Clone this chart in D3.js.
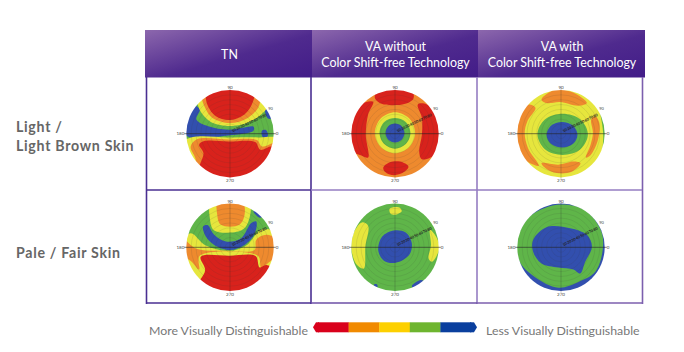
<!DOCTYPE html>
<html><head><meta charset="utf-8">
<script src="https://cdn.jsdelivr.net/npm/d3@7/dist/d3.min.js"></script>
<style>html,body{margin:0;padding:0;background:#fff}svg{display:block}text{font-family:Lato,sans-serif}</style>
</head><body><div id="c"></div>
<script>
const columns = [["TN"],["VA without","Color Shift-free Technology"],["VA with","Color Shift-free Technology"]];
const rows = [["Light /","Light Brown Skin"],["Pale / Fair Skin"]];
const legendLevels = ["#d9001b","#f18a00","#fdd000","#6eb52f","#0a3f9e"];
const legendLeft = "More Visually Distinguishable", legendRight = "Less Visually Distinguishable";
const azimuthLabels = ["90","180","0","270"];
const radialTicks = [10,20,30,40,50,60,70,80];
const R="#d8211d",O="#ee8a2e",Y="#e6e63c",G="#5fb54a",B="#3150ae";

// iso-contours: [fill, [[x,y],...]] in picture reading units
const tnLight = [
 [G,[[70,40],[440,40],[440,300],[70,300]]],
 [B,[[150,85],[122,125],[125,172],[250,172],[325,158],[325,146],[290,150],[250,155],[190,145],[155,125],[165,95]]],
 [B,[[358,85],[375,95],[388,118],[368,122],[360,105]]],
 [B,[[350,158],[362,156],[368,172],[358,182],[350,172]]],
 [Y,[[158,70],[165,20],[350,20],[366,85],[342,114],[300,137],[255,144],[198,132],[168,102]]],
 [O,[[170,55],[175,15],[338,15],[342,82],[308,120],[255,135],[203,120],[182,92]]],
 [R,[[182,55],[182,12],[326,12],[324,70],[298,110],[255,126],[212,114],[190,86]]],
 [Y,[[118,190],[150,176],[250,178],[340,178],[400,182],[398,240],[340,325],[165,325],[142,245],[123,220]]],
 [O,[[138,205],[158,183],[250,184],[335,186],[350,205],[392,195],[395,240],[345,325],[170,325],[152,240]]],
 [R,[[163,200],[178,189],[250,190],[330,192],[345,215],[382,205],[395,250],[340,325],[185,325],[163,275],[176,225]]]
];
const vaLight = [
 [O,[[90,20],[420,20],[420,320],[90,320]]],
 [R,[[145,80],[185,72],[170,110],[163,170],[170,238],[150,232],[115,215],[100,160],[110,110]]],
 [R,[[318,80],[345,80],[390,130],[395,170],[375,225],[330,243],[322,220],[330,170],[330,120]]],
 [R,[[190,60],[205,25],[250,20],[295,25],[305,62],[280,78],[245,82],[210,78]]],
 [R,[[215,268],[235,252],[265,250],[290,265],[270,285],[240,290],[222,282]]],
 [Y,[[250,103],[292,121],[310,165],[292,207],[250,225],[208,207],[190,165],[208,121]]],
 [G,[[250,120],[282,132],[296,165],[282,198],[250,212],[218,198],[204,165],[218,132]]],
 [B,[[250,137],[270,145],[278,165],[270,185],[250,193],[230,185],[222,165],[230,145]]]
];
const vaShiftLight = [
 [G,[[90,20],[420,20],[420,320],[90,320]]],
 [Y,[[248,15],[340,40],[368,125],[372,205],[340,300],[248,320],[120,300],[95,167],[130,50]]],
 [O,[[150,80],[172,90],[148,130],[140,165],[150,210],[182,262],[158,256],[120,225],[105,165],[115,110]]],
 [O,[[350,115],[362,135],[358,185],[335,232],[322,238],[336,200],[343,165],[338,125]]],
 [O,[[190,65],[230,36],[282,44],[325,76],[300,84],[245,73],[205,76]]],
 [O,[[190,255],[240,259],[285,250],[306,255],[280,280],[235,284],[205,272]]],
 [G,[[253,108],[306,125],[328,169],[306,213],[253,230],[200,213],[178,169],[200,125]]],
 [B,[[251,132],[284,143],[297,170],[284,197],[251,208],[218,197],[205,170],[218,143]]]
];
const tnFair = [
 [G,[[90,25],[420,25],[420,320],[90,320]]],
 [Y,[[195,40],[250,25],[310,40],[305,100],[285,122],[205,122],[192,85]]],
 [O,[[218,25],[285,25],[296,70],[280,105],[225,105],[214,75]]],
 [B,[[172,110],[185,106],[205,135],[240,155],[285,145],[315,100],[330,95],[326,130],[295,165],[250,180],[205,165],[180,140]]],
 [B,[[322,65],[335,60],[352,78],[340,84]]],
 [Y,[[135,130],[180,167],[250,183],[300,167],[345,120],[385,125],[400,180],[395,250],[360,320],[160,320],[110,235],[105,170]]],
 [O,[[112,148],[152,176],[250,182],[325,180],[330,150],[360,135],[395,150],[400,185],[370,215],[345,232],[335,197],[162,197],[160,238],[138,215],[108,190]]],
 [R,[[165,200],[250,197],[328,198],[340,232],[360,225],[395,250],[360,325],[250,335],[150,300],[178,240]]]
];
const vaFair = [
 [G,[[90,25],[420,25],[420,320],[90,320]]],
 [Y,[[150,98],[168,108],[160,170],[155,235],[135,225],[118,175],[127,125]]],
 [Y,[[352,120],[370,140],[380,175],[358,215],[348,205],[355,165]]],
 [Y,[[232,57],[262,54],[268,65],[250,75],[235,72]]],
 [B,[[245,122],[280,128],[298,160],[290,195],[250,218],[215,212],[198,180],[210,140]]],
 [B,[[298,287],[325,269],[337,275],[310,296]]],
 [B,[[186,282],[194,282],[196,290],[188,290]]]
];
const vaShiftFair = [
 [B,[[90,25],[420,25],[420,320],[90,320]]],
 [G,[[250,45],[320,62],[368,125],[372,180],[350,245],[300,275],[240,292],[170,260],[125,215],[118,150],[150,85],[200,55]]],
 [B,[[205,112],[275,115],[325,135],[340,170],[320,215],[305,250],[285,238],[240,232],[190,220],[165,185],[165,150]]]
];
const plotData = [[tnLight,vaLight,vaShiftLight],[tnFair,vaFair,vaShiftFair]];
const readingCentres = [[[255,167],[250,167],[248,167]],[[252,172],[248,172],[248,172]]];

const W=684,H=352;
const svg=d3.select("#c").append("svg").attr("width",W).attr("height",H);
const defs=svg.append("defs");
const grad=defs.append("linearGradient").attr("id","hd").attr("x1","0").attr("y1","0").attr("x2","1").attr("y2","1");
grad.append("stop").attr("offset","0").attr("stop-color","#8c67ad");
grad.append("stop").attr("offset","0.55").attr("stop-color","#4f2a8e");
grad.append("stop").attr("offset","1").attr("stop-color","#421c88");
defs.append("filter").attr("id","soft").append("feGaussianBlur").attr("stdDeviation",0.35);

const colEdges=[145,312,478,645];
const colX=d3.scaleOrdinal().domain([0,1,2]).range([230,395,561]);
const rowY=d3.scaleOrdinal().domain([0,1]).range([133.7,247.3]);
const radius=43.7;

// header
columns.forEach((lines,i)=>{
  svg.append("rect").attr("x",colEdges[i]).attr("y",30).attr("width",colEdges[i+1]-colEdges[i]).attr("height",47.5).attr("fill","url(#hd)");
  const cx=(colEdges[i]+colEdges[i+1])/2+(i==0?1:0.5);
  const y0=lines.length==1?59:51;
  lines.forEach((t,j)=>svg.append("text").attr("x",cx).attr("y",y0+j*15.5).attr("text-anchor","middle")
    .attr("fill","#fff").attr("font-size",12.4).text(t));
});
// table frame
const dark="#4a2f92",light="#957dc2";
const seg=(x1,y1,x2,y2,c)=>svg.append("line").attr("x1",x1).attr("y1",y1).attr("x2",x2).attr("y2",y2).attr("stroke",c).attr("stroke-width",1.6);
seg(146.5,77,146.5,304,dark); seg(311,77,311,304,dark); seg(477,77,477,304,light); seg(642.5,77,642.5,304,"#7c5fae");
seg(146,190,311,190,dark); seg(311,190,642,190,light);
seg(146,303,311,303,dark); seg(311,303,477,303,"#6d4fa6"); seg(477,303,643,303,"#7c5fae");

// row labels
rows.forEach((lines,i)=>{
  const ys=i==0?[132,151]:[258];
  lines.forEach((t,j)=>svg.append("text").attr("x",16).attr("y",ys[j]).attr("fill","#666").attr("font-size",14.2).attr("font-weight",700).attr("letter-spacing",0.7).text(t));
});

// polar plots
plotData.forEach((row,r)=>row.forEach((regions,c)=>{
  const X=colX(c),Yc=rowY(r),[rx,ry]=readingCentres[r][c];
  const sx=d3.scaleLinear().domain([rx-130,rx+130]).range([X-radius,X+radius]);
  const sy=d3.scaleLinear().domain([ry-130,ry+130]).range([Yc-radius,Yc+radius]);
  const id=`clip${r}${c}`;
  defs.append("clipPath").attr("id",id).append("circle").attr("cx",X).attr("cy",Yc).attr("r",radius);
  const line=d3.line().x(d=>sx(d[0])).y(d=>sy(d[1])).curve(d3.curveCatmullRomClosed.alpha(0.5));
  const g=svg.append("g");
  const disc=g.append("g").attr("clip-path",`url(#${id})`).append("g").attr("filter","url(#soft)");
  disc.selectAll("path").data(regions).join("path").attr("d",d=>line(d[1])).attr("fill",d=>d[0]);
  // rings
  const rs=d3.scaleLinear().domain([0,90]).range([0,radius]);
  g.selectAll("circle.ring").data(radialTicks).join("circle").attr("class","ring").attr("cx",X).attr("cy",Yc).attr("r",d=>rs(d))
    .attr("fill","none").attr("stroke","#333").attr("stroke-opacity",0.22).attr("stroke-width",0.5);
  // crosshair
  g.append("line").attr("x1",X-radius-2).attr("x2",X+radius+2).attr("y1",Yc).attr("y2",Yc).attr("stroke","#222").attr("stroke-opacity",0.85).attr("stroke-width",0.7);
  g.append("line").attr("x1",X).attr("x2",X).attr("y1",Yc-radius-2).attr("y2",Yc+radius+2).attr("stroke","#222").attr("stroke-opacity",0.45).attr("stroke-width",0.5);
  // azimuth labels
  const pos=[[X,Yc-radius-1,"middle"],[X-radius-2,Yc+1.5,"end"],[X+radius+2,Yc+1.5,"start"],[X,Yc+radius+5,"middle"]];
  azimuthLabels.forEach((t,i)=>g.append("text").attr("x",pos[i][0]).attr("y",pos[i][1]).attr("text-anchor",pos[i][2]).attr("font-size",4.5).attr("fill","#444").text(t));
  // radial scale labels along diagonal
  const ang=-26*Math.PI/180;
  radialTicks.forEach(t=>g.append("text").attr("transform",`translate(${X+rs(t)*Math.cos(ang)},${Yc+rs(t)*Math.sin(ang)}) rotate(-26)`)
    .attr("text-anchor","middle").attr("font-size",3.8).attr("font-weight",700).attr("fill","#222").text(t));
  g.append("text").attr("transform",`translate(${X+(radius+3)*Math.cos(ang*1.15)},${Yc+(radius+3)*Math.sin(ang*1.15)})`).attr("text-anchor","middle").attr("font-size",4).attr("fill","#444").text("90");
}));

// legend
const lx=d3.scaleBand().domain(legendLevels).range([318,471]);
const barTop=322.3,barH=10;
legendLevels.forEach(c=>svg.append("rect").attr("x",lx(c)).attr("y",barTop).attr("width",lx.bandwidth()+0.3).attr("height",barH).attr("fill",c));
const tip=(x0,x1,c)=>svg.append("path").attr("d",d3.line()([[x0,barTop],[x1,barTop+barH/2],[x0,barTop+barH]])).attr("fill",c);
svg.append("rect").attr("x",316).attr("y",barTop).attr("width",3).attr("height",barH).attr("fill",legendLevels[0]);
tip(316,313,legendLevels[0]);
svg.append("rect").attr("x",470).attr("y",barTop).attr("width",4).attr("height",barH).attr("fill",legendLevels[4]);
tip(474,477,legendLevels[4]);
svg.append("text").attr("x",149).attr("y",335).attr("fill","#777").attr("font-size",12.3).text(legendLeft);
svg.append("text").attr("x",486).attr("y",335).attr("fill","#777").attr("font-size",12.35).text(legendRight);
</script></body></html>
